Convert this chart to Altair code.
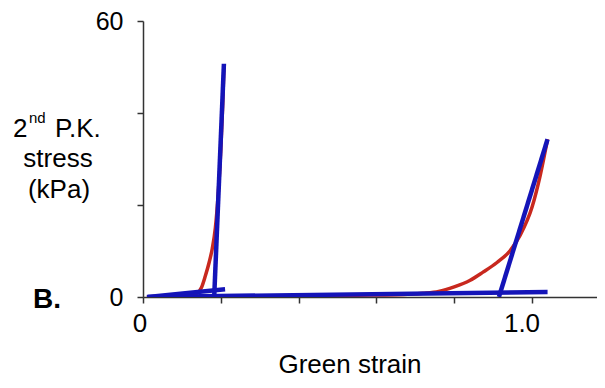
import altair as alt
import pandas as pd

# ---- data (Green strain, 2nd P.K. stress in kPa) ----
red_left_x = [0.01, 0.05, 0.10, 0.125, 0.14, 0.15, 0.16, 0.17, 0.178, 0.186, 0.193, 0.200, 0.205, 0.208]
red_left_y = [0.0, 0.2, 0.4, 0.5, 0.9, 2.0, 4.5, 7.5, 10.5, 15.0, 22.0, 32.0, 42.0, 50.0]

red_right_x = [0.30, 0.45, 0.55, 0.65, 0.72, 0.76, 0.80, 0.84, 0.874, 0.91, 0.943, 0.97, 1.00, 1.02, 1.04]
red_right_y = [0.2, 0.3, 0.4, 0.5, 0.8, 1.2, 2.2, 3.6, 5.4, 7.5, 10.0, 13.5, 19.5, 26.0, 34.3]

blue_left_steep_x = [0.183, 0.208]
blue_left_steep_y = [0.0, 50.7]

blue_left_flat_x = [0.013, 0.211]
blue_left_flat_y = [0.0, 1.7]

blue_long_x = [0.01, 1.04]
blue_long_y = [0.0, 1.1]

blue_right_steep_x = [0.915, 1.04]
blue_right_steep_y = [0.0, 34.3]

x_ticks = [0, 0.2, 0.4, 0.6, 0.8, 1.0]
y_ticks = [0, 20, 40, 60]
x_label_values = [0, 1.0]
x_label_texts = ["0", "1.0"]

series = [
    ("red_left", "red", red_left_x, red_left_y),
    ("red_right", "red", red_right_x, red_right_y),
    ("blue_left_steep", "blue", blue_left_steep_x, blue_left_steep_y),
    ("blue_left_flat", "blue", blue_left_flat_x, blue_left_flat_y),
    ("blue_long", "blue", blue_long_x, blue_long_y),
    ("blue_right_steep", "blue", blue_right_steep_x, blue_right_steep_y),
]
rows = []
for name, kind, xs, ys in series:
    for i, (xv, yv) in enumerate(zip(xs, ys)):
        rows.append({"series": name, "kind": kind, "i": i, "strain": xv, "stress": yv})
df = pd.DataFrame(rows)

W, H = 454, 276
FONT = "Liberation Sans"

xscale = alt.Scale(domain=[0, 454 / 389], nice=False, zero=False)
yscale = alt.Scale(domain=[0, 60], nice=False)

xaxis = alt.Axis(values=x_ticks, labels=False,
                 title=None, grid=False, tickSize=6,
                 domainColor="#333", tickColor="#333",
                 domainWidth=1.5, tickWidth=1.5)
yaxis = alt.Axis(values=y_ticks, labelExpr="datum.value == 0 ? '0' : (datum.value == 60 ? '60' : '')",
                 title=None, grid=False, tickSize=6, labelPadding=14, labelFontSize=25,
                 labelFont=FONT, labelColor="#000", domainColor="#333", tickColor="#333",
                 domainWidth=1.5, tickWidth=1.5)

red = alt.Chart(df).transform_filter(alt.datum.kind == "red").mark_line(
    color="#c8281e", strokeWidth=3.5, clip=True, interpolate="monotone"
).encode(
    x=alt.X("strain:Q", scale=xscale, axis=xaxis),
    y=alt.Y("stress:Q", scale=yscale, axis=yaxis),
    detail="series:N",
    order="i:Q",
)
blue = alt.Chart(df).transform_filter(alt.datum.kind == "blue").mark_line(
    color="#1414b8", strokeWidth=4.5, clip=True
).encode(
    x=alt.X("strain:Q", scale=xscale),
    y=alt.Y("stress:Q", scale=yscale),
    detail="series:N",
    order="i:Q",
)

def xlabel(val, txt, dx):
    return alt.Chart(alt.Data(values=[{"v": val, "t": txt}])).mark_text(
        font=FONT, fontSize=26, align="center", baseline="alphabetic", color="#000", dx=dx
    ).encode(x=alt.X("v:Q", scale=xscale), y=alt.value(311), text="t:N")

one = alt.Data(values=[{}])

def label(text, x, y, size=26, weight="normal", align="center"):
    return alt.Chart(one).mark_text(
        font=FONT, fontSize=size, fontWeight=weight, align=align, baseline="alphabetic", color="#000"
    ).encode(x=alt.value(x), y=alt.value(y), text=alt.value(text))

texts = [
    xlabel(x_label_values[0], x_label_texts[0], -3),
    xlabel(x_label_values[1], x_label_texts[1], -10),
    label("2", -130, 116, align="left"),
    label("nd", -114, 102, size=15, align="left"),
    label("P.K.", -88, 116, align="left"),
    label("stress", -85, 146),
    label("(kPa)", -84, 177),
    label("B.", -96, 287, size=28, weight="bold"),
    label("Green strain", 207, 352),
]

chart = alt.layer(red, blue, *texts).properties(
    width=W, height=H,
    autosize=alt.AutoSizeParams(type="none"),
    padding={"left": 135, "top": 13, "right": 0, "bottom": 83},
).configure_view(stroke=None)

chart.save("out.html", embed_options={"renderer": "svg", "actions": False})
